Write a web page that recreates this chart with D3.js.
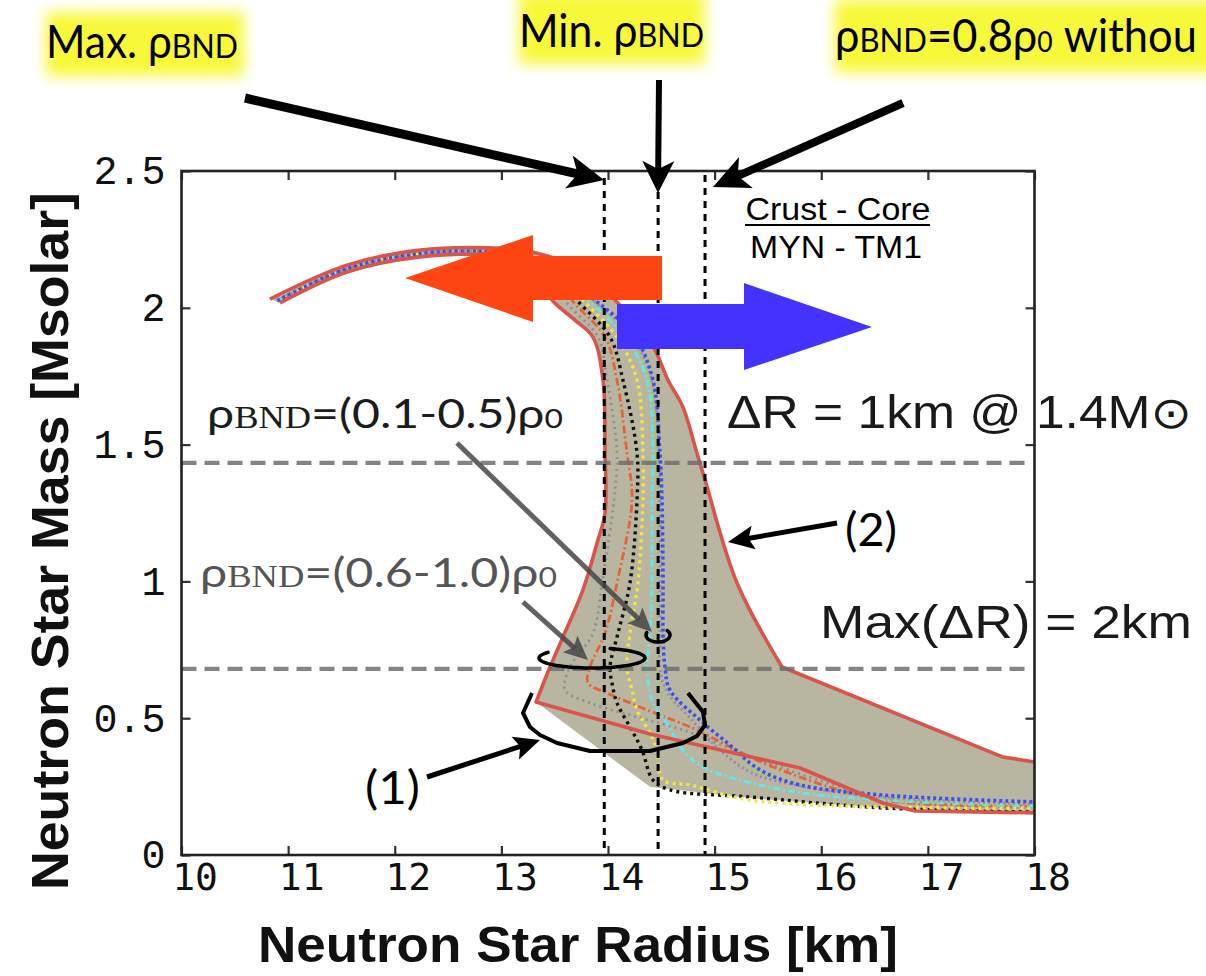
<!DOCTYPE html>
<html>
<head>
<meta charset="utf-8">
<script src="https://cdn.jsdelivr.net/npm/d3@7"></script>
<style>
  html, body { margin: 0; padding: 0; background: #fff; }
  svg { display: block; }
</style>
</head>
<body>
<svg id="chart" width="1206" height="976"></svg>
<script>
// ---------- axis ticks ----------
const xTicks = [10, 11, 12, 13, 14, 15, 16, 17, 18];
const xTickLabels = ["10", "11", "12", "13", "14", "15", "16", "17", "18"];
const yTicks = [0, 0.5, 1, 1.5, 2, 2.5];
const yTickLabels = ["0", "0.5", "1", "1.5", "2", "2.5"];

// ---------- reference lines ----------
// radius at 1.4 Msun for max / min / 0.8 rho0 boundary density
const rhoLineR = [13.965, 14.47, 14.91];
const rhoLineTop = [2.474, 2.423, 2.485];
// masses of the horizontal guide lines
const refMass = [1.433, 0.68];

// ---------- M-R curves [radius km, mass Msun] ----------
// outer envelope (1): high-mass branch and left side down to its corner
const curveOneUpper = [[10.924,2.018],[11.552,2.131],[12.237,2.186],[12.865,2.193],[13.193,2.167],[13.362,2.102],[13.475,2.028],[13.690,1.955],[13.859,1.893],[13.953,1.736],[13.972,1.480],[13.972,1.250],[13.897,1.140],[13.765,0.969],[13.578,0.797],[13.456,0.687],[13.325,0.559]];
// outer envelope (1): low-mass tail
const curveOneLower = [[13.325,0.559],[14.394,0.442],[15.801,0.318],[16.579,0.190],[16.879,0.161],[18.0,0.154]];
// outer envelope (2): right side, down to the kink
const curveTwoUpper = [[10.830,2.032],[11.552,2.156],[12.237,2.211],[12.865,2.219],[13.362,2.197],[13.737,2.138],[14.019,2.047],[14.253,1.948],[14.440,1.846],[14.562,1.736],[14.703,1.637],[14.834,1.469],[14.910,1.371],[15.210,0.994],[15.632,0.687]];
// outer envelope (2): low-mass tail
const curveTwoLower = [[15.632,0.687],[17.705,0.358],[18.0,0.340]];
// lower edge of the shaded band below the corner of curve (1)
const bandBase = [[13.325,0.559],[14.394,0.249],[15.332,0.208],[16.579,0.172],[18.0,0.150]];
// shared high-mass part of the individual boundary-density curves
const stripTop = [[10.90,2.026],[11.552,2.143],[12.237,2.198],[12.865,2.206],[13.25,2.185],[13.5,2.13]];
const grayCurve = [[13.597,2.028],[13.906,1.893],[13.991,1.736],[14.084,1.469],[14.056,1.298],[13.944,0.994],[13.859,0.811],[13.643,0.687],[13.597,0.603],[13.831,0.556],[14.272,0.504],[14.703,0.457],[15.425,0.347],[16.579,0.212],[18.0,0.172]];
const orangeCurve = [[13.662,2.028],[13.972,1.893],[14.084,1.736],[14.178,1.469],[14.225,1.298],[14.084,0.994],[13.972,0.811],[13.831,0.687],[13.812,0.629],[13.991,0.592],[14.394,0.526],[14.769,0.468],[15.547,0.322],[16.579,0.201],[18.0,0.179]];
const blackCurve = [[13.709,2.028],[14.019,1.893],[14.140,1.736],[14.272,1.469],[14.272,1.298],[14.206,0.994],[14.094,0.811],[14.019,0.687],[14.037,0.629],[14.084,0.556],[14.206,0.468],[14.319,0.384],[14.422,0.274],[14.581,0.238],[15.332,0.212],[16.579,0.172],[18.0,0.157]];
const yellowCurve = [[13.765,2.028],[14.084,1.893],[14.272,1.736],[14.328,1.469],[14.328,1.298],[14.281,0.994],[14.206,0.811],[14.178,0.687],[14.225,0.603],[14.272,0.530],[14.394,0.446],[14.459,0.384],[14.516,0.274],[14.769,0.256],[15.332,0.201],[17.208,0.172],[18.0,0.172]];
const cyanCurve = [[13.812,2.028],[14.159,1.893],[14.366,1.736],[14.422,1.469],[14.412,1.298],[14.412,0.994],[14.394,0.811],[14.366,0.687],[14.375,0.640],[14.422,0.556],[14.553,0.482],[14.703,0.384],[14.891,0.322],[15.641,0.238],[16.579,0.201],[18.0,0.179]];
const greenCurve = [[13.850,2.028],[14.206,1.893],[14.394,1.736],[14.459,1.469],[14.469,1.298],[14.469,0.994],[14.459,0.811],[14.469,0.687],[14.506,0.603],[14.703,0.526],[14.910,0.439],[15.238,0.329],[15.801,0.256],[16.579,0.208],[18.0,0.183]];
const purpleCurve = [[13.859,2.028],[14.225,1.893],[14.412,1.736],[14.478,1.469],[14.487,1.298],[14.487,0.994],[14.487,0.811],[14.487,0.687],[14.544,0.603],[14.769,0.501],[15.050,0.384],[15.332,0.303],[15.801,0.252],[16.579,0.212],[18.0,0.186]];
const blueCurve = [[13.878,2.028],[14.253,1.893],[14.422,1.736],[14.487,1.469],[14.506,1.298],[14.516,0.994],[14.516,0.811],[14.534,0.687],[14.581,0.603],[14.863,0.493],[15.144,0.402],[15.425,0.311],[15.801,0.256],[16.579,0.219],[18.0,0.194]];

const innerCurves = [
  { pts: grayCurve,   color: "#8e8e8e", dash: "2,4",       w: 2.8 },
  { pts: orangeCurve, color: "#e4643a", dash: "8,3,2,3",   w: 2.8 },
  { pts: blackCurve,  color: "#111111", dash: "3,4",       w: 3.4 },
  { pts: yellowCurve, color: "#f2e640", dash: "3,4",       w: 3.4 },
  { pts: cyanCurve,   color: "#66e6e6", dash: "7,3,2,3",   w: 3 },
  { pts: greenCurve,  color: "#86d944", dash: "2,3",       w: 2.6 },
  { pts: purpleCurve, color: "#b070d6", dash: "2,3",       w: 2.6 },
  { pts: blueCurve,   color: "#3553ea", dash: "3,3",       w: 3.6 }
];

// ---------- layout ----------
const svg = d3.select("#chart");
const x = d3.scaleLinear().domain([10, 18]).range([181.5, 1034.5]);
const y = d3.scaleLinear().domain([0, 2.5]).range([855, 171]);

const defs = svg.append("defs");
defs.append("clipPath").attr("id", "plotClip")
  .append("rect").attr("x", 181.5).attr("y", 171).attr("width", 853).attr("height", 684);
defs.append("filter").attr("id", "glow")
  .attr("x", "-30%").attr("y", "-60%").attr("width", "160%").attr("height", "220%")
  .append("feGaussianBlur").attr("stdDeviation", 7);

// ---------- yellow highlighted headings ----------
const hl = svg.append("g");
[[46, 12, 198, 64], [519, -8, 186, 72], [835, 0, 390, 72]].forEach(([hx, hy, hw, hh]) => {
  hl.append("rect").attr("x", hx).attr("y", hy).attr("width", hw).attr("height", hh)
    .attr("fill", "#f8f83a").attr("filter", "url(#glow)");
});

// mixed-size label, stretched horizontally to the wanted width
function richText(g, parts, xPos, yPos, opts) {
  const t = g.append("text").attr("x", 0).attr("y", 0)
    .attr("fill", opts.fill || "#000")
    .attr("font-family", opts.family || "Lato, 'Open Sans', sans-serif")
    .attr("font-size", opts.size);
  parts.forEach(p => {
    const s = t.append("tspan").text(p.t);
    if (p.size) s.attr("font-size", p.size);
    if (p.family) s.attr("font-family", p.family);
  });
  const k = opts.len ? opts.len / t.node().getComputedTextLength() : 1;
  t.attr("transform", `translate(${xPos},${yPos}) scale(${k},1)`);
  return t;
}

richText(hl, [{ t: "Max. " }, { t: "ρ" }, { t: "BND", size: 33 }], 46, 58, { size: 46, len: 192 });
richText(hl, [{ t: "Min. " }, { t: "ρ" }, { t: "BND", size: 33 }], 519, 47, { size: 46, len: 185 });
richText(hl, [{ t: "ρ" }, { t: "BND", size: 33 }, { t: "=0.8ρ" }, { t: "0", size: 28 }, { t: " withou" }], 835, 52, { size: 46, len: 362 });

// ---------- shaded band between the envelopes ----------
const straight = d3.line().x(d => x(d[0])).y(d => y(d[1]));
const smooth = d3.line().x(d => x(d[0])).y(d => y(d[1])).curve(d3.curveCatmullRom.alpha(0.5));
const cont = s => s.replace(/^M/, "L");

const plot = svg.append("g").attr("clip-path", "url(#plotClip)");
const bandPath = smooth(curveOneUpper)
  + cont(straight(bandBase))
  + cont(straight(curveTwoLower.slice().reverse()))
  + cont(smooth(curveTwoUpper.slice().reverse())) + "Z";
plot.append("path").attr("d", bandPath).attr("fill", "#b8b6a1").attr("stroke", "none");

// individual curves
innerCurves.forEach(c => {
  plot.append("path").attr("d", smooth(stripTop.concat(c.pts)))
    .attr("fill", "none").attr("stroke", c.color).attr("stroke-width", c.w)
    .attr("stroke-dasharray", c.dash).attr("stroke-linecap", "butt");
});

// envelopes
[smooth(curveOneUpper) + cont(straight(curveOneLower)),
 smooth(curveTwoUpper) + cont(straight(curveTwoLower))].forEach(d => {
  plot.append("path").attr("d", d)
    .attr("fill", "none").attr("stroke", "#d9544b").attr("stroke-width", 3.6)
    .attr("stroke-linejoin", "round");
});

// horizontal guide lines
refMass.forEach(m => {
  svg.append("line").attr("x1", x(10)).attr("x2", x(17.97)).attr("y1", y(m)).attr("y2", y(m))
    .attr("stroke", "rgba(110,110,110,0.85)").attr("stroke-width", 4.2)
    .attr("stroke-dasharray", "15,8");
});

// vertical boundary-density lines
rhoLineR.forEach((r, i) => {
  svg.append("line").attr("x1", x(r)).attr("x2", x(r)).attr("y1", y(rhoLineTop[i])).attr("y2", y(0))
    .attr("stroke", "#000").attr("stroke-width", 3).attr("stroke-dasharray", "7,6");
});

// ---------- axes ----------
const axes = svg.append("g");
const bottom = axes.append("g").attr("transform", `translate(0,${y(0)})`)
  .call(d3.axisBottom(x).tickValues(xTicks).tickFormat((d, i) => xTickLabels[i])
    .tickSize(-9).tickSizeOuter(0).tickPadding(8));
bottom.selectAll("text").attr("dx", 13)
  .attr("font-family", "'DejaVu Sans Mono', monospace").attr("font-size", 38).attr("fill", "#111");
const left = axes.append("g").attr("transform", `translate(${x(10)},0)`)
  .call(d3.axisLeft(y).tickValues(yTicks).tickFormat((d, i) => yTickLabels[i])
    .tickSize(-9).tickSizeOuter(0).tickPadding(16));
left.selectAll("text").attr("font-family", "'Liberation Mono', monospace").attr("font-size", 40).attr("fill", "#111");
axes.append("g").attr("transform", `translate(0,${y(2.5)})`)
  .call(d3.axisTop(x).tickValues(xTicks).tickFormat("").tickSize(-9).tickSizeOuter(0));
axes.append("g").attr("transform", `translate(${x(18)},0)`)
  .call(d3.axisRight(y).tickValues(yTicks).tickFormat("").tickSize(-9).tickSizeOuter(0));
axes.selectAll(".domain").remove();
axes.selectAll(".tick line").attr("stroke", "#333").attr("stroke-width", 2.2);
axes.append("rect").attr("x", x(10)).attr("y", y(2.5)).attr("width", x(18) - x(10)).attr("height", y(0) - y(2.5))
  .attr("fill", "none").attr("stroke", "#222").attr("stroke-width", 2.6);

// axis titles
svg.append("text").attr("x", 258).attr("y", 962)
  .attr("font-family", "'Liberation Sans Narrow', 'Liberation Sans', Arial, sans-serif")
  .attr("font-weight", "bold").attr("font-size", 50).attr("fill", "#111")
  .attr("textLength", 640).attr("lengthAdjust", "spacingAndGlyphs")
  .text("Neutron Star Radius [km]");
svg.append("text").attr("transform", "translate(68,890) rotate(-90)")
  .attr("font-family", "'Liberation Sans Narrow', 'Liberation Sans', Arial, sans-serif")
  .attr("font-weight", "bold").attr("font-size", 52).attr("fill", "#111")
  .attr("textLength", 698).attr("lengthAdjust", "spacingAndGlyphs")
  .text("Neutron Star Mass [Msolar]");

// ---------- annotations ----------
const ann = svg.append("g");

function arrow(g, x1, y1, x2, y2, o) {
  const dx = x2 - x1, dy = y2 - y1, L = Math.hypot(dx, dy);
  const ux = dx / L, uy = dy / L, nx = -uy, ny = ux;
  const bx = x2 - ux * o.head, by = y2 - uy * o.head;
  const kx = x2 - ux * o.head * (1 - o.notch), ky = y2 - uy * o.head * (1 - o.notch);
  g.append("line").attr("x1", x1).attr("y1", y1).attr("x2", kx + ux * 2).attr("y2", ky + uy * 2)
    .attr("stroke", o.color).attr("stroke-width", o.w);
  g.append("path").attr("d",
    `M${x2},${y2}L${bx + nx * o.hw / 2},${by + ny * o.hw / 2}L${kx},${ky}L${bx - nx * o.hw / 2},${by - ny * o.hw / 2}Z`)
    .attr("fill", o.color);
}

// big colour arrows
ann.append("path").attr("d", "M662,256L533,256L533,235L405,278L533,322L533,300L662,300Z").attr("fill", "#ff4512");
ann.append("path").attr("d", "M617,304L744,304L744,283L872,327L744,370L744,349L617,349Z").attr("fill", "#4433ff");

// heading pointers
arrow(ann, 245, 98, 604, 180, { w: 9, head: 36, hw: 34, notch: 0.25, color: "#000" });
arrow(ann, 659, 80, 658, 193, { w: 6, head: 32, hw: 32, notch: 0.25, color: "#000" });
arrow(ann, 903, 103, 713, 187, { w: 8, head: 36, hw: 34, notch: 0.25, color: "#000" });

// crust / core legend
ann.append("text").attr("x", 838).attr("y", 220).attr("text-anchor", "middle")
  .attr("font-family", "'Liberation Sans', Arial, sans-serif").attr("font-size", 31)
  .attr("textLength", 185).attr("lengthAdjust", "spacingAndGlyphs").text("Crust - Core");
ann.append("line").attr("x1", 745).attr("x2", 930).attr("y1", 225).attr("y2", 225)
  .attr("stroke", "#000").attr("stroke-width", 2);
ann.append("text").attr("x", 836).attr("y", 258).attr("text-anchor", "middle")
  .attr("font-family", "'Liberation Sans', Arial, sans-serif").attr("font-size", 31)
  .attr("textLength", 172).attr("lengthAdjust", "spacingAndGlyphs").text("MYN - TM1");

// radius spread labels
richText(ann, [{ t: "ΔR = 1km @ 1.4M" }, { t: "⊙", size: 44, family: "'DejaVu Sans', sans-serif" }], 727, 428,
  { size: 46, family: "'Liberation Sans', Arial, sans-serif", len: 465, fill: "#1a1a1a" });
richText(ann, [{ t: "Max(ΔR) = 2km" }], 820, 638,
  { size: 46, family: "'Liberation Sans', Arial, sans-serif", len: 372, fill: "#1a1a1a" });

// boundary density group labels
const serif = "'Liberation Serif', 'Times New Roman', serif";
richText(ann, [{ t: "ρ" }, { t: "BND", size: 31, family: serif }, { t: "=(0.1-0.5)ρ" }, { t: "0", size: 27 }], 207, 428,
  { size: 41, len: 356, fill: "#1c1c1c" });
richText(ann, [{ t: "ρ" }, { t: "BND", size: 31, family: serif }, { t: "=(0.6-1.0)ρ" }, { t: "0", size: 27 }], 200, 587,
  { size: 41, len: 357, fill: "#555" });

// grey pointers
arrow(ann, 457, 443, 652, 632, { w: 5, head: 24, hw: 22, notch: 0.2, color: "rgba(70,70,70,0.85)" });
arrow(ann, 523, 602, 588, 660, { w: 5, head: 24, hw: 22, notch: 0.2, color: "rgba(70,70,70,0.85)" });

// rings around the curve groups
function ellipseArc(g, cx, cy, rx, ry, a0, a1) {
  const pts = d3.range(a0, a1 + 0.5, 4).map(a => {
    const t = a * Math.PI / 180;
    return [cx + rx * Math.cos(t), cy + ry * Math.sin(t)];
  });
  g.append("path").attr("d", d3.line()(pts)).attr("fill", "none")
    .attr("stroke", "#000").attr("stroke-width", 3.5).attr("stroke-linecap", "round");
}
ellipseArc(ann, 658, 635, 12, 7, -40, 200);
ellipseArc(ann, 592, 658, 53, 10, -70, 215);

// bracket (1) around the low-mass corner
ann.append("path").attr("d", d3.line()([[532,693],[523,713],[530,727],[540,735],[557,743],[590,751],[650,751],[683,743],[697,736],[705,725],[703,712],[688,693]]))
  .attr("fill", "none").attr("stroke", "#000").attr("stroke-width", 4).attr("stroke-linejoin", "round");

arrow(ann, 427, 777, 540, 740, { w: 5, head: 26, hw: 24, notch: 0.2, color: "#000" });
arrow(ann, 837, 523, 728, 542, { w: 5, head: 26, hw: 24, notch: 0.2, color: "#000" });

richText(ann, [{ t: "(1)" }], 365, 804, { size: 46, len: 55 });
richText(ann, [{ t: "(2)" }], 845, 546, { size: 46, len: 52 });
</script>
</body>
</html>
